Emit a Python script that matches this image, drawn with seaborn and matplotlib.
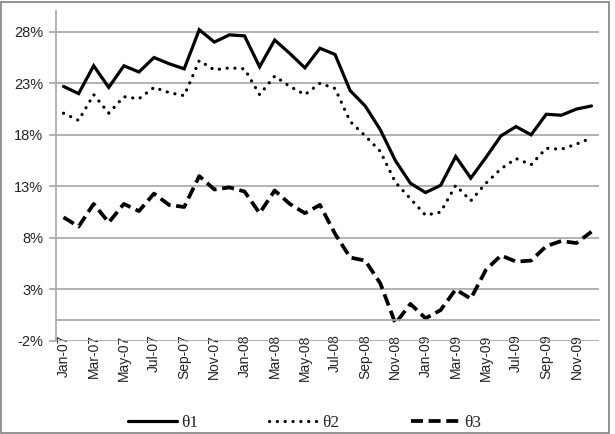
import numpy as np
import pandas as pd
import seaborn as sns
import matplotlib.pyplot as plt
from matplotlib.patches import Rectangle

months = list(pd.date_range('2007-01-01', periods=36, freq='MS').strftime('%b-%y'))

theta1 = [22.7, 22.0, 24.7, 22.6, 24.7, 24.1, 25.5, 24.9, 24.4, 28.2, 27.0, 27.7,
          27.6, 24.6, 27.2, 25.9, 24.5, 26.4, 25.8, 22.3, 20.8, 18.5, 15.5, 13.3,
          12.4, 13.1, 15.9, 13.8, 15.8, 17.9, 18.8, 18.0, 20.0, 19.9, 20.5, 20.8]
theta2 = [20.1, 19.4, 21.9, 20.1, 21.7, 21.5, 22.6, 22.1, 21.8, 25.2, 24.3, 24.5,
          24.4, 21.9, 23.7, 22.7, 21.9, 23.0, 22.5, 19.3, 17.9, 16.4, 13.4, 11.8,
          10.2, 10.5, 13.1, 11.6, 13.3, 14.7, 15.7, 15.1, 16.7, 16.6, 17.1, 17.7]
theta3 = [10.0, 9.1, 11.3, 9.5, 11.3, 10.6, 12.3, 11.2, 11.0, 14.0, 12.7, 12.9,
          12.5, 10.4, 12.6, 11.3, 10.4, 11.2, 8.4, 6.1, 5.8, 3.6, -0.3, 1.6,
          0.2, 1.0, 3.0, 2.1, 4.9, 6.3, 5.7, 5.8, 7.2, 7.7, 7.5, 8.6]

series_names = ['\u03b81', '\u03b82', '\u03b83']
y_ticks = [-2, 3, 8, 13, 18, 23, 28]

df = pd.DataFrame({'month': months, 'idx': np.arange(len(months)),
                   series_names[0]: theta1, series_names[1]: theta2, series_names[2]: theta3})

sns.set_style('white')
plt.rcParams['font.family'] = ['Liberation Sans', 'DejaVu Sans']

fig = plt.figure(figsize=(6.15, 4.34), dpi=100)
ax = fig.add_axes([0.091, 0.2143, 0.883, 0.76])

grid_col = '#a6a6a6'
sns.lineplot(data=df, x='idx', y=series_names[0], ax=ax, color='black', lw=2.3,
             label=series_names[0], solid_joinstyle='miter')
sns.lineplot(data=df, x='idx', y=series_names[1], ax=ax, color='black', lw=2.3,
             linestyle=(0, (0.05, 2.4)), dash_capstyle='round', label=series_names[1])
sns.lineplot(data=df, x='idx', y=series_names[2], ax=ax, color='black', lw=2.7,
             linestyle=(0, (3.2, 1.5)), label=series_names[2])

# spine position first: moving it resets the tick objects
ax.spines['bottom'].set_position(('data', 0))
for s in ['top', 'right']:
    ax.spines[s].set_visible(False)
ax.spines['left'].set_color(grid_col)
ax.spines['left'].set_linewidth(1.2)
ax.spines['bottom'].set_color(grid_col)
ax.spines['bottom'].set_linewidth(1.2)

ax.set_xlim(-0.5, len(months) - 0.5)
ax.set_ylim(-2, 30)
ax.set_yticks(y_ticks)
ax.set_yticklabels([f'{v}%' for v in y_ticks])
ax.set_xticks(np.arange(0, len(months), 2))
ax.set_xticklabels(months[::2])
ax.set_xticks(np.arange(-0.5, len(months), 2), minor=True)
ax.set_xlabel('')
ax.set_ylabel('')

ax.grid(axis='y', color=grid_col, lw=1.2)
ax.set_axisbelow(True)

ax.tick_params(axis='x', which='major', length=0, pad=10, labelsize=10,
               labelcolor='#222222', labelrotation=90)
ax.tick_params(axis='x', which='minor', length=5, width=1.2, color=grid_col, direction='out')
ax.tick_params(axis='y', length=5, width=1.2, color=grid_col, pad=4, labelsize=10.5,
               labelcolor='#222222', left=True)

ax.get_legend().remove()
handles, labels = ax.get_legend_handles_labels()
fig.legend(handles, labels, loc='center', bbox_to_anchor=(0.495, 0.025), ncol=3,
           frameon=False, handlelength=2.8, columnspacing=4.1, handletextpad=0.25,
           prop={'family': 'Liberation Serif', 'size': 12.5})

fig.patches.append(Rectangle((0.0015, 0.003), 0.989, 0.992, transform=fig.transFigure,
                             fill=False, edgecolor='#808080', lw=1.2))

plt.savefig('out.png', dpi=100)
plt.close()
